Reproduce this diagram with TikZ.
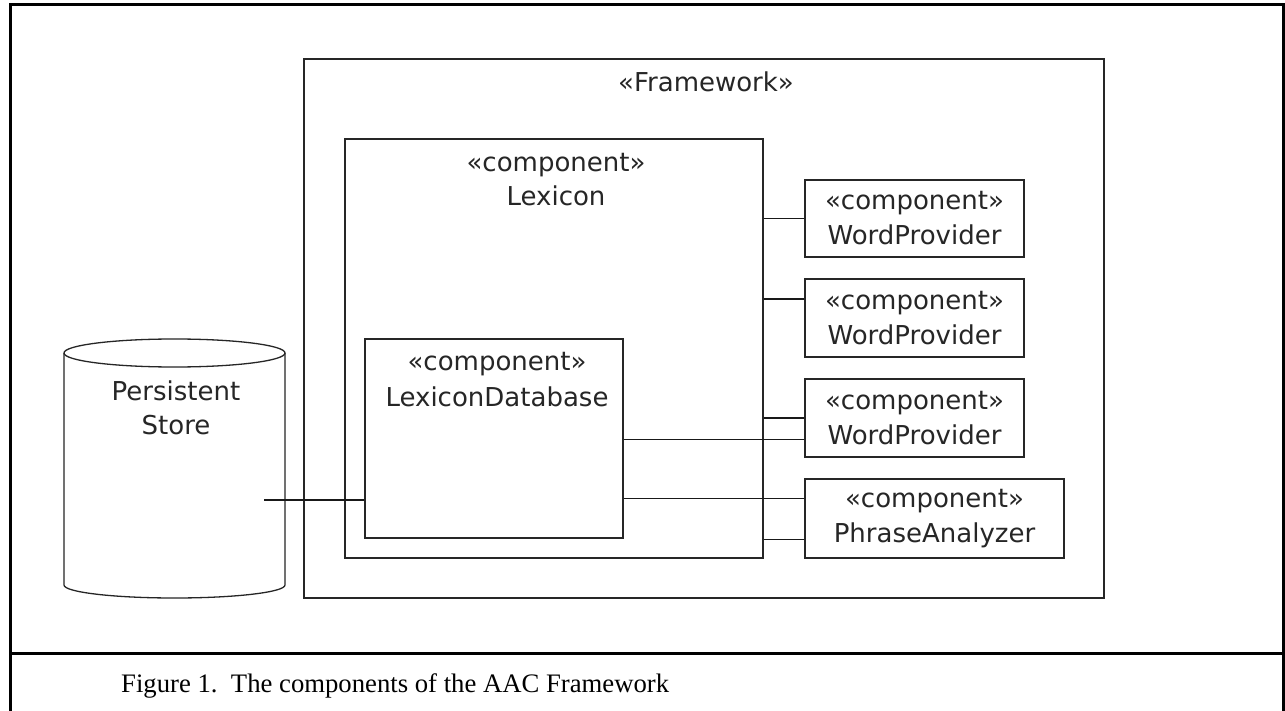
\documentclass[tikz,border=0pt]{standalone}
\usepackage{fontspec}
\setmainfont{Liberation Serif}
\newfontfamily\diafont{DejaVu Sans}
\usetikzlibrary{calc}
\begin{document}
\begin{tikzpicture}[x=1pt,y=-1pt,
  box/.style={draw=black!85, line width=1.3pt, rectangle, inner sep=0pt},
  dfont/.style={font=\diafont\fontsize{26}{35}\selectfont, text=black!85},
  lbl/.style={dfont, anchor=base, inner sep=0pt},
  comp/.style={box, dfont, align=center},
  wire/.style={draw=black!90, line width=1.3pt},
  frame/.style={draw=black, line width=3pt}]
\useasboundingbox (0,0) rectangle (1285,711);
\fill[white] (0,0) rectangle (1285,711);

% outer frame and caption separator
\draw[frame] (10.5,715) -- (10.5,4.5) -- (1283,4.5) -- (1283,715);
\draw[frame] (10.5,653) -- (1283,653);

% Framework
\node[box, minimum width=800pt, minimum height=539pt] (fw) at (704,328.5) {};
\node[lbl] (fwl) at (706,92) {«Framework»};

% Lexicon
\node[box, minimum width=418pt, minimum height=419pt] (lex) at (554,348.5) {};
\node[lbl] (lexl1) at (556,172) {«component»};
\node[lbl] (lexl2) at (556,206) {Lexicon};

% LexiconDatabase
\node[box, minimum width=258pt, minimum height=199pt] (ldb) at (494,438.5) {};
\node[lbl] (ldbl1) at (497,370) {«component»};
\node[lbl] (ldbl2) at (497,406) {LexiconDatabase};

% right components
\node[comp, minimum width=219pt, minimum height=77pt] (wp1) at (914.5,218.5) {«component»\\WordProvider};
\node[comp, minimum width=219pt, minimum height=78pt] (wp2) at (914.5,318) {«component»\\WordProvider};
\node[comp, minimum width=219pt, minimum height=78pt] (wp3) at (914.5,418) {«component»\\WordProvider};
\node[comp, minimum width=259pt, minimum height=79pt] (pa) at (934.5,518.5) {«component»\\PhraseAnalyzer};

% Persistent store cylinder
\draw[box] (174.5,353) ellipse [x radius=110.5, y radius=14];
\draw[box] (64,353) -- (64,585) arc[start angle=180, end angle=0, x radius=110.5, y radius=13] -- (285,353);
\node[lbl] (ps1) at (176,400) {Persistent};
\node[lbl] (ps2) at (176,434) {Store};
\coordinate (psport) at (264,500);

% connectors
\coordinate (wp2p) at ($(wp2.north west)!0.26!(wp2.south west)$);
\coordinate (wp3a) at (wp3.west);
\coordinate (wp3b) at ($(wp3.north west)!0.77!(wp3.south west)$);
\coordinate (paa) at ($(pa.north west)!0.25!(pa.south west)$);
\coordinate (pab) at ($(pa.north west)!0.76!(pa.south west)$);

\draw[wire] (wp1.west) -- (wp1.west -| lex.east);
\draw[wire] (wp2p) -- (wp2p -| lex.east);
\draw[wire] (wp3a) -- (wp3a -| lex.east);
\draw[wire] (wp3b) -- (wp3b -| ldb.east);
\draw[wire] (paa) -- (paa -| ldb.east);
\draw[wire] (pab) -- (pab -| lex.east);
\draw[wire] (psport) -- (psport -| ldb.west);

% caption
\node[anchor=base west, inner sep=0pt, font=\fontsize{26.7}{30}\selectfont] (cap) at (121,692) {Figure 1.\hspace{0.5em}The components of the AAC Framework};
\end{tikzpicture}
\end{document}
